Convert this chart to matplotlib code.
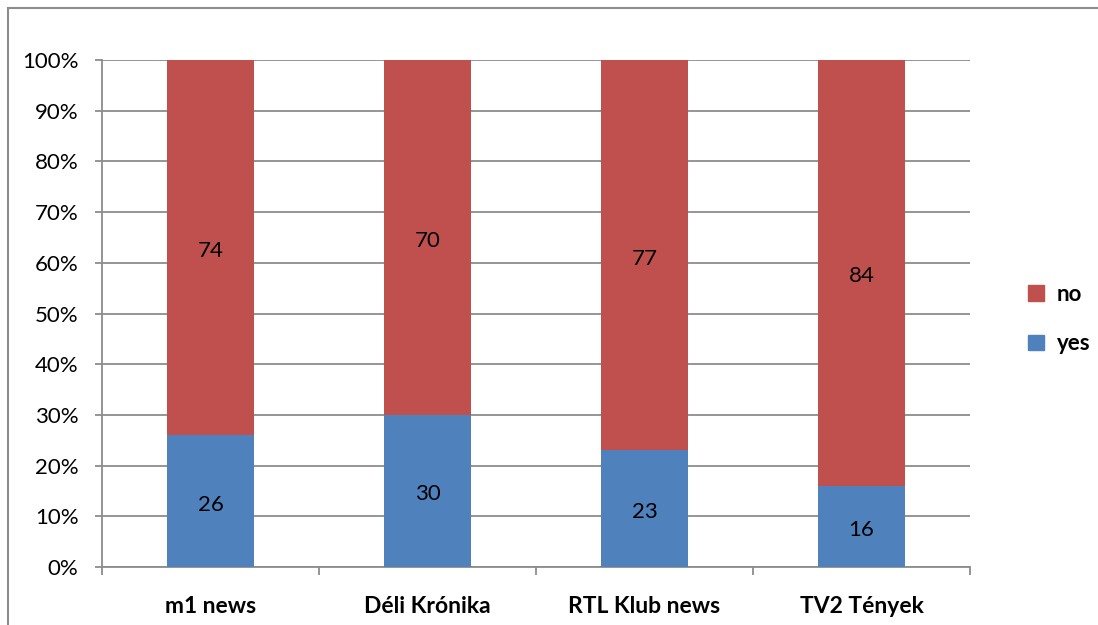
import matplotlib.pyplot as plt
import matplotlib.patches as mpatches
from matplotlib.ticker import FuncFormatter, FixedLocator

categories = ["m1 news", "Déli Krónika", "RTL Klub news", "TV2 Tények"]
yes_vals = [26, 30, 23, 16]
no_vals = [74, 70, 77, 84]

plt.rcParams['font.family'] = ['Lato', 'DejaVu Sans']

W, H = 1098, 625
fig = plt.figure(figsize=(W / 100, H / 100), dpi=100)
ax = fig.add_axes([102 / W, 1 - 567 / H, (970 - 102) / W, (567 - 60) / H])

blue = "#4F81BD"
red = "#C0504D"
x = list(range(len(categories)))
bw = 0.405
ax.bar(x, yes_vals, width=bw, color=blue, zorder=3, label="yes")
ax.bar(x, no_vals, width=bw, bottom=yes_vals, color=red, zorder=3, label="no")

for i in x:
    ax.text(i, yes_vals[i] / 2 - 0.7, str(yes_vals[i]), ha="center", va="center", fontsize=16, zorder=4)
    ax.text(i, yes_vals[i] + no_vals[i] / 2 - 0.7, str(no_vals[i]), ha="center", va="center", fontsize=16, zorder=4)

ax.set_xlim(-0.5, len(categories) - 0.5)
ax.set_ylim(0, 100)
ax.set_yticks(range(0, 101, 10))
ax.yaxis.set_major_formatter(FuncFormatter(lambda v, p: f"{int(v)}%"))
ax.yaxis.grid(True, color="#8C8C8C", linewidth=1.3, zorder=0)
ax.set_xticks(x)
ax.set_xticklabels(categories, fontsize=16.5, fontweight="bold")
ax.xaxis.set_minor_locator(FixedLocator([i - 0.5 for i in range(len(categories) + 1)]))
ax.tick_params(axis="x", which="major", length=0, pad=21)
ax.tick_params(axis="x", which="minor", length=6, width=1.3, color="#8C8C8C", direction="out")
ax.tick_params(axis="y", length=5, width=1.3, color="#8C8C8C", labelsize=16, pad=12)
for s in ["top", "right"]:
    ax.spines[s].set_visible(False)
for s in ["left", "bottom"]:
    ax.spines[s].set_color("#8C8C8C")
    ax.spines[s].set_linewidth(1.3)

handles = [mpatches.Patch(color=red, label="no"), mpatches.Patch(color=blue, label="yes")]
leg = fig.legend(handles=handles, loc="center left", bbox_to_anchor=(1008 / W, 1 - 319 / H),
                 frameon=False, prop={"weight": "bold", "size": 16},
                 handlelength=0.7, handleheight=0.7, labelspacing=1.3, handletextpad=0.6)

border = mpatches.Rectangle((7.5 / W, -0.1), 1.2, 1 - 8 / H + 0.1, transform=fig.transFigure,
                            fill=False, edgecolor="#8C8C8C", linewidth=1.5)
fig.patches.append(border)

fig.savefig("out.png", dpi=100)
